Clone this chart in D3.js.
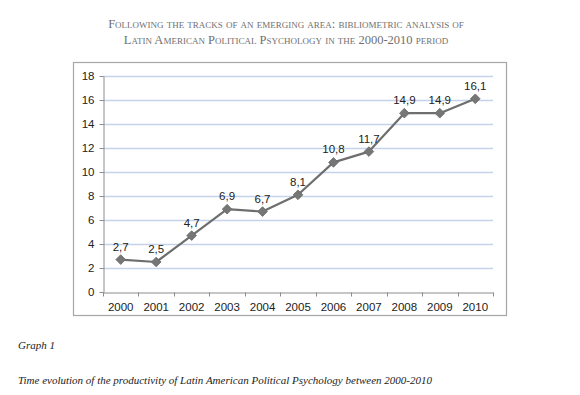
<!DOCTYPE html>
<html>
<head>
<meta charset="utf-8">
<script src="https://cdn.jsdelivr.net/npm/d3@7"></script>
<style>
  body { margin: 0; background: #fff; }
  svg { display: block; }
</style>
</head>
<body>
<div id="chart-area"></div>
<script>
var years = ["2000", "2001", "2002", "2003", "2004", "2005", "2006", "2007", "2008", "2009", "2010"];
var values = [2.7, 2.5, 4.7, 6.9, 6.7, 8.1, 10.8, 11.7, 14.9, 14.9, 16.1];
var yTicks = [0, 2, 4, 6, 8, 10, 12, 14, 16, 18];
var titleLines = [
    "Following the tracks of an emerging area: bibliometric analysis of",
    "Latin American Political Psychology in the 2000-2010 period"
];
var graphLabel = "Graph 1";
var caption = "Time evolution of the productivity of Latin American Political Psychology between 2000-2010";

var W = 580, H = 395;
var plot = {left: 103, right: 493, top: 76, bottom: 292};

var svg = d3.select('#chart-area')
    .append('svg')
    .attr('width', W)
    .attr('height', H);

// page title (small caps)
svg.selectAll('text.title').data(titleLines).enter()
    .append('text')
    .attr('class', 'title')
    .attr('x', 286)
    .attr('y', (d, i) => 28 + i * 16)
    .attr('text-anchor', 'middle')
    .attr('font-family', 'Liberation Serif, serif')
    .attr('font-size', '12.5px')
    .attr('font-variant', 'small-caps')
    .attr('fill', '#707070')
    .text((d) => d);

// chart frame
svg.append('rect')
    .attr('x', 73.5)
    .attr('y', 62.5)
    .attr('width', 433)
    .attr('height', 253)
    .attr('fill', '#fff')
    .attr('stroke', '#a6a6a6')
    .attr('stroke-width', 1.2);

var x = d3.scaleBand()
    .domain(years)
    .range([plot.left, plot.right]);

var y = d3.scaleLinear()
    .domain([0, 18])
    .range([plot.bottom, plot.top]);

var g = svg.append('g');

// gridlines
g.selectAll('line.grid').data(yTicks.filter((d) => d > 0)).enter()
    .append('line')
    .attr('class', 'grid')
    .attr('x1', plot.left)
    .attr('x2', plot.right)
    .attr('y1', (d) => Math.round(y(d)) + 0.5)
    .attr('y2', (d) => Math.round(y(d)) + 0.5)
    .attr('stroke', '#c5d3ea')
    .attr('stroke-width', 1.3);

var axisFont = 'Liberation Sans, Arial, sans-serif';

// y axis
var yAxis = d3.axisLeft(y)
    .tickValues(yTicks)
    .tickSize(4)
    .tickPadding(5)
    .tickSizeOuter(0);

var ya = g.append('g')
    .attr('class', 'left axis')
    .attr('transform', 'translate(' + (plot.left + 0.5) + ',0)')
    .call(yAxis);
ya.select('.domain').attr('stroke', '#8c8c8c');
ya.selectAll('.tick line').attr('stroke', '#8c8c8c');
ya.selectAll('text')
    .attr('font-family', axisFont)
    .attr('font-size', '11.5px')
    .attr('fill', '#222');

// x axis, ticks on band boundaries
var xAxis = d3.axisBottom(x)
    .tickSize(0)
    .tickPadding(10);

var xa = g.append('g')
    .attr('class', 'bottom axis')
    .attr('transform', 'translate(0,' + (plot.bottom + 0.5) + ')')
    .call(xAxis);
xa.select('.domain').attr('stroke', '#8c8c8c');
xa.selectAll('text')
    .attr('font-family', axisFont)
    .attr('font-size', '11.5px')
    .attr('fill', '#222');

var bounds = years.map((d) => x(d)).concat([plot.right]);
xa.selectAll('line.bound').data(bounds).enter()
    .append('line')
    .attr('class', 'bound')
    .attr('x1', (d) => Math.round(d) + 0.5)
    .attr('x2', (d) => Math.round(d) + 0.5)
    .attr('y1', 0)
    .attr('y2', 4)
    .attr('stroke', '#8c8c8c');

// line series
var cx = (d, i) => x(years[i]) + x.bandwidth() / 2;

var line = d3.line()
    .x(cx)
    .y((d) => y(d));

g.append('path')
    .datum(values)
    .attr('d', line)
    .attr('fill', 'none')
    .attr('stroke', '#6e6e6e')
    .attr('stroke-width', 2.2)
    .attr('stroke-linejoin', 'round');

// diamond markers
var diamond = d3.symbol().type(d3.symbolDiamond2).size(60);
g.selectAll('path.marker').data(values).enter()
    .append('path')
    .attr('class', 'marker')
    .attr('d', diamond)
    .attr('transform', (d, i) => 'translate(' + cx(d, i) + ',' + y(d) + ')')
    .attr('fill', '#767676')
    .attr('stroke', '#6a6a6a')
    .attr('stroke-width', 0.8);

// data labels
g.selectAll('text.val').data(values).enter()
    .append('text')
    .attr('class', 'val')
    .attr('x', cx)
    .attr('y', (d) => y(d) - 9)
    .attr('text-anchor', 'middle')
    .attr('font-family', axisFont)
    .attr('font-size', '11.5px')
    .attr('fill', '#222')
    .text((d) => d3.format('.1f')(d).replace('.', ','));

// captions below the chart
svg.append('text')
    .attr('x', 18)
    .attr('y', 349)
    .attr('font-family', 'Liberation Serif, serif')
    .attr('font-style', 'italic')
    .attr('font-size', '11px')
    .attr('fill', '#222')
    .text(graphLabel);

svg.append('text')
    .attr('x', 18)
    .attr('y', 384)
    .attr('font-family', 'Liberation Serif, serif')
    .attr('font-style', 'italic')
    .attr('font-size', '11px')
    .attr('fill', '#222')
    .text(caption);
</script>
</body>
</html>
